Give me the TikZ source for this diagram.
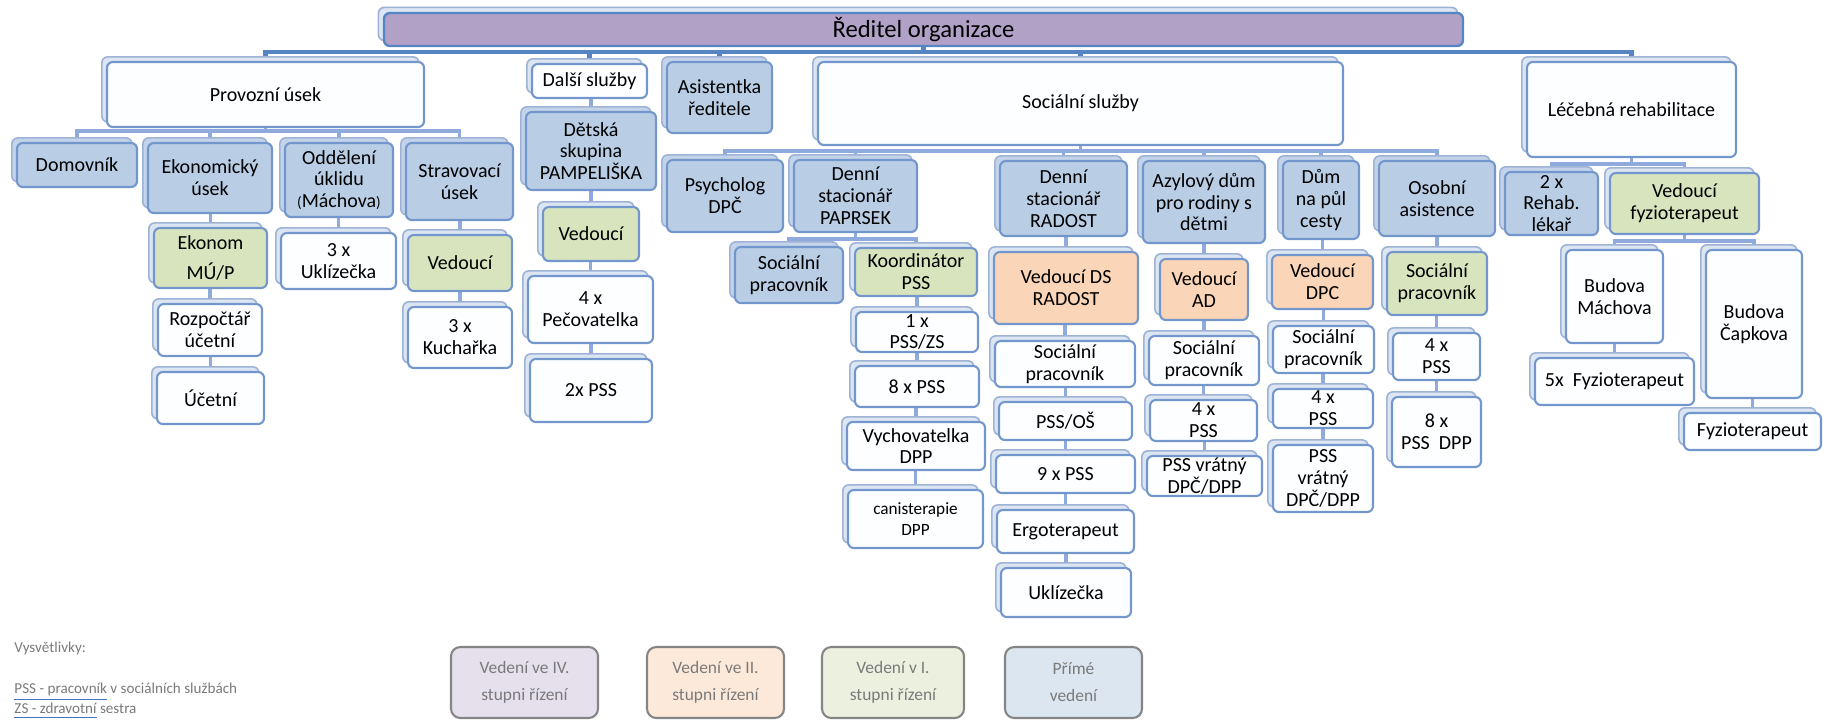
\documentclass[tikz,border=0pt]{standalone}
\usepackage{fontspec}
\setmainfont{Carlito}
\usetikzlibrary{shadows}
\definecolor{bord}{HTML}{7397CD}
\definecolor{shB}{HTML}{9FB3D6}
\definecolor{shF}{HTML}{DCE6F2}
\definecolor{shBl}{HTML}{C3D4EA}
\definecolor{cBlue}{HTML}{B9CDE5}
\definecolor{cGreen}{HTML}{D7E4BD}
\definecolor{cOrange}{HTML}{FAD5B7}
\definecolor{cPurple}{HTML}{B2A1C7}
\definecolor{cWhite}{HTML}{FDFEFF}
\definecolor{cline}{HTML}{8FAADC}
\definecolor{cbus}{HTML}{5585C3}
\definecolor{lgray}{HTML}{858585}
\definecolor{ltext}{HTML}{7A7A7A}
\definecolor{ulblue}{HTML}{4472C4}
\definecolor{lg1}{HTML}{E5E0EC}
\definecolor{lg2}{HTML}{FDE9D9}
\definecolor{lg3}{HTML}{EBF1DE}
\definecolor{lg4}{HTML}{DCE6F1}
\pgfdeclarelayer{bg}
\pgfsetlayers{bg,main}
\newcommand\bx[7]{%
  \pgfmathsetmacro\bxwd{(#5-#3)*0.43}%
  \pgfmathsetmacro\bxht{(#6-#4)*0.43}%
  \node[#2, minimum width=\bxwd pt, minimum height=\bxht pt] (#1) at ({(#3+#5)/2},{(#4+#6)/2}) {#7};}
\tikzset{
  box/.style={draw=bord, line width=0.9pt, rounded corners=2.5pt, align=center,
    inner xsep=1pt, inner ysep=0.5pt, text=black, font=\fontsize{8.6}{9.4}\selectfont},
  wbox/.style={box, fill=cWhite, copy shadow={shadow xshift=-2.2pt, shadow yshift=2.2pt, fill=shF, draw=shB, line width=0.7pt}},
  bbox/.style={box, fill=cBlue, copy shadow={shadow xshift=-2.2pt, shadow yshift=2.2pt, fill=shBl, draw=shB, line width=0.7pt}},
  gbox/.style={box, fill=cGreen, copy shadow={shadow xshift=-2.2pt, shadow yshift=2.2pt, fill=shF, draw=shB, line width=0.7pt}},
  obox/.style={box, fill=cOrange, copy shadow={shadow xshift=-2.2pt, shadow yshift=2.2pt, fill=shF, draw=shB, line width=0.7pt}},
  pbox/.style={box, fill=cPurple, draw=cbus, line width=1pt, font=\fontsize{10.6}{12}\selectfont,
    copy shadow={shadow xshift=-2.4pt, shadow yshift=2.4pt, fill=shF, draw=shB, line width=0.7pt}},
  conn/.style={draw=cline, line width=1.4pt},
  topbus/.style={draw=cbus, line width=1.9pt},
  legbox/.style={draw=lgray, line width=0.9pt, rounded corners=4pt, align=center, text=ltext,
    font=\fontsize{7.5}{11.6}\selectfont},
  legtxt/.style={anchor=west, inner sep=0pt, text=ltext, font=\fontsize{6.5}{7.5}\selectfont}
}
\begin{document}
\begin{tikzpicture}[x=0.43pt, y=-0.43pt]
\useasboundingbox (0,0) rectangle (1825,720);
% top
\bx{red}{pbox}{384}{13}{1463}{46}{Ředitel organizace}
\bx{prov}{wbox}{107}{62}{424}{127}{Provozní úsek}
\bx{dalsi}{wbox}{532}{64}{647}{98}{Další služby}
\bx{asist}{bbox}{667}{62}{772}{133}{Asistentka\\ředitele}
\bx{soc}{wbox}{818}{62}{1343}{145}{Sociální služby}
\bx{lec}{wbox}{1527}{62}{1736}{157}{Léčebná rehabilitace}
% Provozni
\bx{domov}{bbox}{17}{143}{137}{187}{Domovník}
\bx{ekon}{bbox}{148}{143}{272}{213}{Ekonomický\\úsek}
\bx{odd}{bbox}{285}{143}{393}{217}{Oddělení\\úklidu\\{\fontsize{6.5}{7}\selectfont(}Máchova{\fontsize{6.5}{7}\selectfont)}}
\bx{strav}{bbox}{406}{143}{513}{220}{Stravovací\\úsek}
\bx{ekonom}{gbox}{154}{228}{267}{288}{Ekonom\\[3.5pt]MÚ/P}
\bx{rozp}{wbox}{158}{304}{262}{356}{Rozpočtář\\účetní}
\bx{ucet}{wbox}{157}{372}{264}{424}{Účetní}
\bx{ukl3}{wbox}{281}{233}{396}{289}{3 x\\Uklízečka}
\bx{vedstr}{gbox}{408}{235}{512}{291}{Vedoucí}
\bx{kuch}{wbox}{408}{307}{512}{368}{3 x\\Kuchařka}
% Dalsi sluzby
\bx{detska}{bbox}{526}{112}{656}{190}{Dětská\\skupina\\PAMPELIŠKA}
\bx{veddet}{gbox}{543}{207}{639}{261}{Vedoucí}
\bx{pecov}{wbox}{528}{276}{653}{343}{4 x\\Pečovatelka}
\bx{pssdva}{wbox}{530}{359}{652}{422}{2x PSS}
% Socialni
\bx{psych}{bbox}{667}{160}{783}{232}{Psycholog\\DPČ}
\bx{papr}{bbox}{794}{160}{917}{232}{Denní\\stacionář\\PAPRSEK}
\bx{psoc}{bbox}{735}{247}{843}{303}{Sociální\\pracovník}
\bx{koord}{gbox}{855}{248}{977}{296}{Koordinátor\\PSS}
\bx{psszs}{wbox}{856}{312}{978}{352}{1 x\\PSS/ZS}
\bx{pssosm}{wbox}{855}{366}{979}{407}{8 x PSS}
\bx{vych}{wbox}{847}{422}{985}{470}{Vychovatelka\\DPP}
\bx{canis}{wbox}{848}{490}{983}{548}{{\fontsize{7.4}{8.6}\selectfont canisterapie}\\{\fontsize{7.4}{8.6}\selectfont DPP}}
\bx{rad}{bbox}{1000}{161}{1127}{236}{Denní\\stacionář\\RADOST}
\bx{vedds}{obox}{994}{252}{1138}{324}{Vedoucí DS\\RADOST}
\bx{rsoc}{wbox}{995}{341}{1135}{387}{Sociální\\pracovník}
\bx{pssos}{wbox}{999}{402}{1132}{440}{PSS/OŠ}
\bx{pssdev}{wbox}{996}{455}{1135}{493}{9 x PSS}
\bx{ergo}{wbox}{997}{510}{1134}{553}{Ergoterapeut}
\bx{ukl}{wbox}{1001}{568}{1131}{617}{Uklízečka}
\bx{azyl}{bbox}{1143}{161}{1265}{243}{Azylový dům\\pro rodiny s\\dětmi}
\bx{vedad}{obox}{1160}{259}{1248}{320}{Vedoucí\\AD}
\bx{asoc}{wbox}{1149}{336}{1259}{385}{Sociální\\pracovník}
\bx{apss}{wbox}{1150}{400}{1257}{441}{4 x\\PSS}
\bx{avrat}{wbox}{1147}{456}{1262}{496}{PSS vrátný\\DPČ/DPP}
\bx{dum}{bbox}{1283}{161}{1359}{239}{Dům\\na půl\\cesty}
\bx{veddpc}{obox}{1272}{255}{1373}{309}{Vedoucí\\DPC}
\bx{dsoc}{wbox}{1273}{326}{1374}{373}{Sociální\\pracovník}
\bx{dpss}{wbox}{1273}{389}{1373}{428}{4 x\\PSS}
\bx{dvrat}{wbox}{1273}{445}{1373}{512}{PSS\\vrátný\\DPČ/DPP}
\bx{osob}{bbox}{1379}{161}{1495}{236}{Osobní\\asistence}
\bx{osoc}{gbox}{1387}{252}{1487}{315}{Sociální\\pracovník}
\bx{opss}{wbox}{1393}{333}{1480}{380}{4 x\\PSS}
\bx{opssdpp}{wbox}{1392}{397}{1481}{467}{8 x\\PSS~~DPP}
% Lecebna
\bx{rehab}{bbox}{1505}{172}{1598}{235}{2 x\\Rehab.\\lékař}
\bx{vedfyz}{gbox}{1610}{173}{1759}{234}{Vedoucí\\fyzioterapeut}
\bx{mach}{wbox}{1566}{250}{1663}{343}{Budova\\Máchova}
\bx{fyzpet}{wbox}{1535}{358}{1694}{405}{5x~~Fyzioterapeut}
\bx{capk}{wbox}{1706}{250}{1802}{398}{Budova\\Čapkova}
\bx{fyz}{wbox}{1684}{413}{1821}{450}{Fyzioterapeut}
% connectors
\begin{pgfonlayer}{bg}
\coordinate (bT) at (0,52);
\foreach \c in {prov,dalsi,asist,soc,lec}
  \draw[topbus] (red.south) -- (red.south |- bT) -| (\c.north);
\coordinate (bP) at (0,131);
\foreach \c in {domov,ekon,odd,strav}
  \draw[conn] (prov.south) -- (prov.south |- bP) -| (\c.north);
\coordinate (bS) at (0,151);
\foreach \c in {psych,papr,rad,azyl,dum,osob}
  \draw[conn] (soc.south) -- (soc.south |- bS) -| (\c.north);
\coordinate (bPa) at (0,239);
\foreach \c in {psoc,koord}
  \draw[conn] (papr.south) -- (papr.south |- bPa) -| (\c.north);
\coordinate (bL) at (0,164);
\foreach \c in {rehab,vedfyz}
  \draw[conn] (lec.south) -- (lec.south |- bL) -| (\c.north);
\coordinate (bF) at (0,241);
\foreach \c in {mach,capk}
  \draw[conn] (vedfyz.south) -- (vedfyz.south |- bF) -| (\c.north);
\foreach \a/\b in {ekon/ekonom,ekonom/rozp,rozp/ucet,odd/ukl3,strav/vedstr,vedstr/kuch,
  dalsi/detska,detska/veddet,veddet/pecov,pecov/pssdva,
  koord/psszs,psszs/pssosm,pssosm/vych,vych/canis,
  rad/vedds,vedds/rsoc,rsoc/pssos,pssos/pssdev,pssdev/ergo,ergo/ukl,
  azyl/vedad,vedad/asoc,asoc/apss,apss/avrat,
  dum/veddpc,veddpc/dsoc,dsoc/dpss,dpss/dvrat,
  osob/osoc,osoc/opss,opss/opssdpp,mach/fyzpet,capk/fyz}
  \draw[conn] (\b.north) -- (\b.north |- \a.south);
\end{pgfonlayer}
% legend
\node[legtxt] (vys) at (14,648) {Vysvětlivky:};
\node[legtxt] (lpss) at (14,692) {\textcolor{ulblue}{\underline{\textcolor{ltext}{PSS - pracovník}}} v sociálních službách};
\node[legtxt] (lzs) at (14,711) {\textcolor{ulblue}{\underline{\textcolor{ltext}{ZS - zdravotní}}} sestra};
\bx{leg1}{legbox, fill=lg1}{451}{647}{598}{718}{Vedení ve IV.\\stupni řízení}
\bx{leg2}{legbox, fill=lg2}{647}{647}{784}{718}{Vedení ve II.\\stupni řízení}
\bx{leg3}{legbox, fill=lg3}{822}{647}{964}{718}{Vedení v I.\\stupni řízení}
\bx{leg4}{legbox, fill=lg4}{1005}{647}{1142}{718}{Přímé\\vedení}
\end{tikzpicture}
\end{document}
